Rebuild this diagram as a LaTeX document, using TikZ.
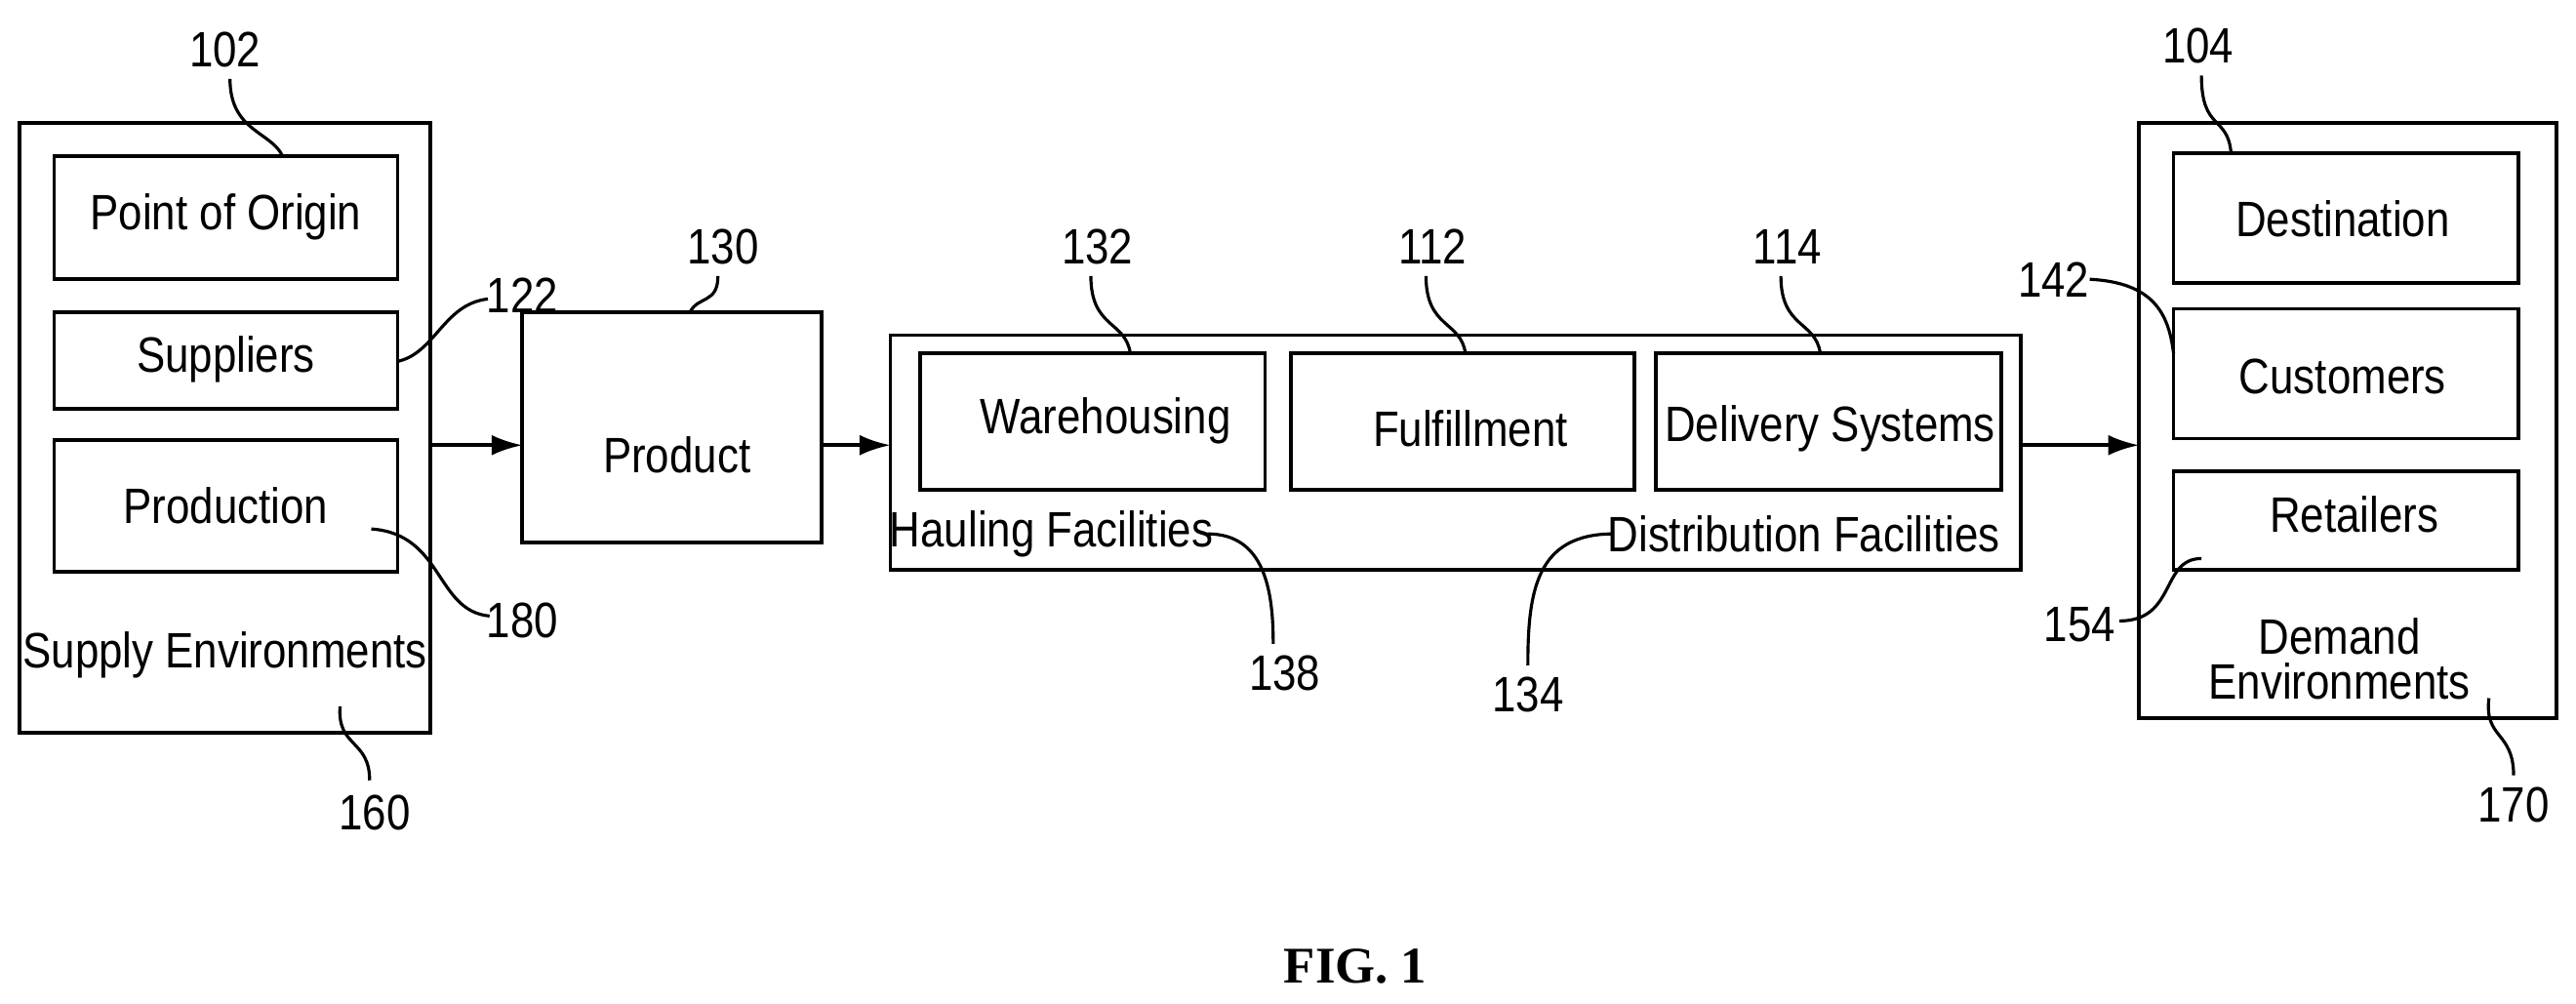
\documentclass[tikz,border=0pt]{standalone}
\usepackage{fontspec}
\setmainfont{Liberation Sans}[FakeStretch=0.86]
\newfontfamily\figfont{Liberation Serif}
\usetikzlibrary{arrows.meta}
\begin{document}
\begin{tikzpicture}[x=0.016837cm,y=-0.016837cm,
  box/.style={draw,line width=1.1pt},
  txt/.style={font=\fontsize{14.5pt}{16pt}\selectfont,inner sep=0pt},
  num/.style={font=\fontsize{14.5pt}{16pt}\selectfont,inner sep=1pt},
  lead/.style={line width=0.9pt},
  arr/.style={line width=1.1pt,-{Latex[length=9pt,width=6pt]}}]
\useasboundingbox (0,0) rectangle (1568,611);
% supply
\draw[box] (12,75) rectangle (262,446);
\draw[box] (33,95) rectangle (242,170); \node[txt] (poo) at (137.5,132) {Point of Origin};
\draw[box] (33,190) rectangle (242,249); \node[txt] (sup) at (137.5,219) {Suppliers};
\draw[box] (33,268) rectangle (242,348); \node[txt] (pro) at (137.5,308) {Production};
\node[txt] (se) at (137,399) {Supply Environments};
% product
\draw[box] (318,190) rectangle (500,330); \node[txt] (prod) at (412,277) {Product};
% middle
\draw[box] (542,204) rectangle (1230,347);
\draw[box] (560,215) rectangle (770,298); \node[txt] (wh) at (673,256) {Warehousing};
\draw[box] (786,215) rectangle (995,298); \node[txt] (ff) at (895,261) {Fulfillment};
\draw[box] (1008,215) rectangle (1218,298); \node[txt] (ds) at (1114,261) {Delivery Systems};
\node[txt] (hf) at (640,325) {Hauling Facilities};
\node[txt] (df) at (1098,325) {Distribution Facilities};
% demand
\draw[box] (1302,75) rectangle (1556,437);
\draw[box] (1323,93) rectangle (1533,172); \node[txt] (dst) at (1426,133) {Destination};
\draw[box] (1323,188) rectangle (1533,267); \node[txt] (cus) at (1426,229) {Customers};
\draw[box] (1323,287) rectangle (1533,347); \node[txt] (ret) at (1433,313) {Retailers};
\node[txt,align=center,font=\fontsize{14.5pt}{13pt}\selectfont] (de) at (1424,401) {Demand\\Environments};
% arrows
\coordinate (a1) at (262,271); \coordinate (a2) at (318,271);
\coordinate (b1) at (500,271); \coordinate (b2) at (542,271);
\coordinate (c1) at (1230,271); \coordinate (c2) at (1302,271);
\draw[arr] (a1) -- (a2); \draw[arr] (b1) -- (b2); \draw[arr] (c1) -- (c2);
% numbers
\node[num] (n102) at (137,30) {102};
\node[num] (n122) at (318,180) {122};
\node[num] (n180) at (318,378) {180};
\node[num] (n160) at (228,495) {160};
\node[num] (n130) at (440,150) {130};
\node[num] (n132) at (668,150) {132};
\node[num] (n112) at (872,150) {112};
\node[num] (n114) at (1088,150) {114};
\node[num] (n142) at (1250,170) {142};
\node[num] (n104) at (1338,28) {104};
\node[num] (n154) at (1266,380) {154};
\node[num] (n138) at (782,410) {138};
\node[num] (n134) at (930,423) {134};
\node[num] (n170) at (1530,490) {170};
% leader endpoints
\coordinate (e102) at (172,95); \coordinate (s102) at (140,48);
\coordinate (s122) at (297,182); \coordinate (e122) at (242,220);
\coordinate (s180) at (298,375); \coordinate (e180) at (226,322);
\coordinate (s160) at (225,475); \coordinate (e160) at (207,430);
\coordinate (s130) at (437,168); \coordinate (e130) at (420,190);
\coordinate (s132) at (664,168); \coordinate (e132) at (688,215);
\coordinate (s112) at (868,168); \coordinate (e112) at (892,215);
\coordinate (s114) at (1084,168); \coordinate (e114) at (1108,215);
\coordinate (s142) at (1272,170); \coordinate (e142) at (1323,215);
\coordinate (s104) at (1340,46); \coordinate (e104) at (1358,93);
\coordinate (s154) at (1290,378); \coordinate (e154) at (1340,340);
\coordinate (s138) at (775,392); \coordinate (e138) at (735,325);
\coordinate (s134) at (930,405); \coordinate (e134) at (982,325);
\coordinate (s170) at (1530,472); \coordinate (e170) at (1515,425);
\draw[lead] (s102) .. controls (140,80) and (165,80) .. (e102);
\draw[lead] (s122) .. controls (270,185) and (265,215) .. (e122);
\draw[lead] (s180) .. controls (265,372) and (270,325) .. (e180);
\draw[lead] (s160) .. controls (225,450) and (205,455) .. (e160);
\draw[lead] (s130) .. controls (437,185) and (425,180) .. (e130);
\draw[lead] (s132) .. controls (664,200) and (685,195) .. (e132);
\draw[lead] (s112) .. controls (868,200) and (889,195) .. (e112);
\draw[lead] (s114) .. controls (1084,200) and (1105,195) .. (e114);
\draw[lead] (s142) .. controls (1310,172) and (1320,190) .. (e142);
\draw[lead] (s104) .. controls (1340,80) and (1356,70) .. (e104);
\draw[lead] (s154) .. controls (1325,378) and (1315,340) .. (e154);
\draw[lead] (e138) .. controls (770,325) and (775,360) .. (s138);
\draw[lead] (e134) .. controls (935,325) and (930,360) .. (s134);
\draw[lead] (s170) .. controls (1530,445) and (1512,450) .. (e170);
\node[font=\figfont\bfseries\fontsize{15pt}{17pt}\selectfont] (fig) at (825,588) {FIG. 1};
\end{tikzpicture}
\end{document}
